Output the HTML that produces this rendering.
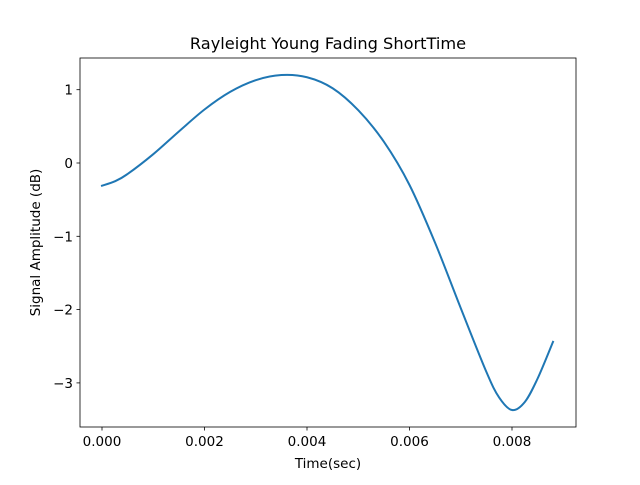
<!DOCTYPE html>
<html><head><meta charset="utf-8"><style>
body{margin:0;background:#fff}
svg text{font-family:"DejaVu Sans","Liberation Sans",sans-serif;fill:#000}
</style></head><body>
<svg id="chart" width="640" height="480" viewBox="0 0 640 480">
<rect width="640" height="480" fill="#fff"/>
<text x="328" y="49" font-size="16.2" text-anchor="middle">Rayleight Young Fading ShortTime</text>
<text x="328" y="468" font-size="13.5" text-anchor="middle">Time(sec)</text>
<text transform="translate(40,242.5) rotate(-90)" font-size="13.5" text-anchor="middle">Signal Amplitude (dB)</text>
<g id="ticks"></g>
<path id="line" fill="none" stroke="#1f77b4" stroke-width="2" stroke-linejoin="round" stroke-linecap="square"/>
<rect x="80" y="58" width="496" height="369" fill="none" stroke="#000" stroke-width="0.8"/>
</svg>
<script>
const times=[0,0.00025,0.0005,0.001,0.0015,0.002,0.0025,0.003,0.0035,0.004,0.0045,0.005,0.0055,0.006,0.0065,0.007,0.0075,0.00775,0.008,0.00825,0.0085,0.0088];
const amps=[-0.31,-0.25,-0.15,0.12,0.43,0.73,0.97,1.13,1.20,1.17,1.02,0.72,0.29,-0.30,-1.09,-1.98,-2.85,-3.20,-3.37,-3.26,-2.94,-2.44];
const xTicks=[0,0.002,0.004,0.006,0.008];
const xTickLabels=["0.000","0.002","0.004","0.006","0.008"];
const yTicks=[1,0,-1,-2,-3];
const yTickLabels=["1","0","−1","−2","−3"];
const X0=102,XS=51250,Y0=163,YS=73.3;
function sx(v){return X0+v*XS;}
function sy(v){return Y0-v*YS;}
const ns="http://www.w3.org/2000/svg";
const g=document.getElementById('ticks');
xTicks.forEach((t,i)=>{
  const l=document.createElementNS(ns,'line');
  l.setAttribute('x1',sx(t));l.setAttribute('x2',sx(t));l.setAttribute('y1',427);l.setAttribute('y2',430.5);l.setAttribute('stroke','#000');l.setAttribute('stroke-width','0.8');
  
  
  g.appendChild(l);
  const tx=document.createElementNS(ns,'text');
  tx.setAttribute('x',sx(t));tx.setAttribute('y',446);tx.setAttribute('font-size','13.5');tx.setAttribute('text-anchor','middle');
  tx.textContent=xTickLabels[i];
  
  
  g.appendChild(tx);
});
yTicks.forEach((t,i)=>{
  const l=document.createElementNS(ns,'line');
  l.setAttribute('x1',76.5);l.setAttribute('x2',80);l.setAttribute('y1',sy(t));l.setAttribute('y2',sy(t));l.setAttribute('stroke','#000');l.setAttribute('stroke-width','0.8');
  
  
  g.appendChild(l);
  const tx=document.createElementNS(ns,'text');
  tx.setAttribute('x',73);tx.setAttribute('y',sy(t)+5);tx.setAttribute('font-size','13.5');tx.setAttribute('text-anchor','end');
  tx.textContent=yTickLabels[i];
  
  
  g.appendChild(tx);
});
const P=times.map((t,i)=>[sx(t),sy(amps[i])]);
let d='M'+P[0][0]+','+P[0][1];
for(let i=0;i<P.length-1;i++){
  const p0=P[Math.max(0,i-1)],p1=P[i],p2=P[i+1],p3=P[Math.min(P.length-1,i+2)];
  const c1=[p1[0]+(p2[0]-p0[0])/6,p1[1]+(p2[1]-p0[1])/6];
  const c2=[p2[0]-(p3[0]-p1[0])/6,p2[1]-(p3[1]-p1[1])/6];
  d+=' C'+c1[0]+','+c1[1]+' '+c2[0]+','+c2[1]+' '+p2[0]+','+p2[1];
}
document.getElementById('line').setAttribute('d',d);
</script>
</body></html>
